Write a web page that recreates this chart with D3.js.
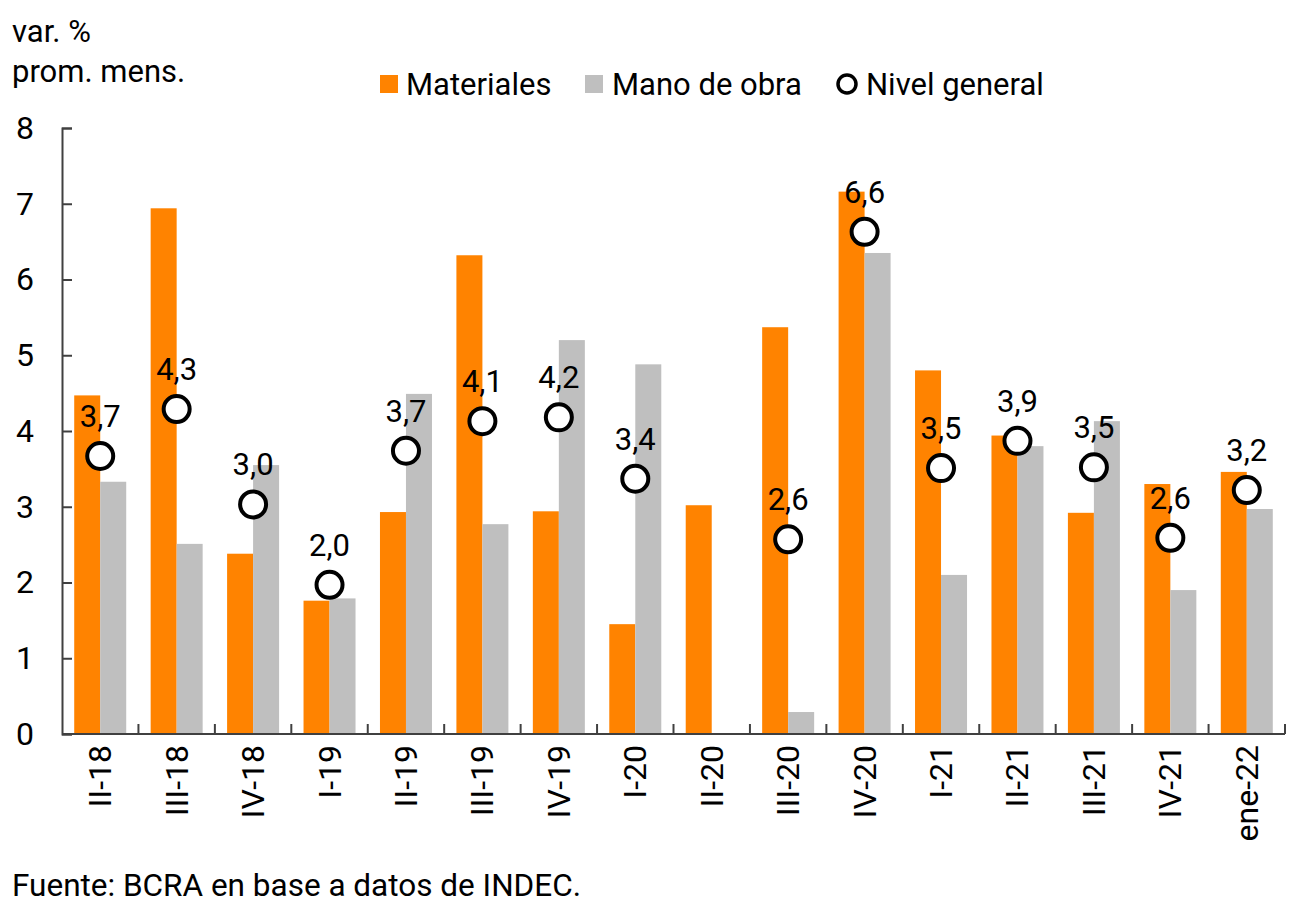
<!DOCTYPE html>
<html>
<head>
<meta charset="utf-8">
<script src="https://cdn.jsdelivr.net/npm/d3@7"></script>
<style>
  body { margin: 0; background: #fff; }
  text { font-family: Roboto, "Noto Sans", sans-serif; fill: #000; }
</style>
</head>
<body>
<div id="chart"></div>
<script>
var categories = ["II-18", "III-18", "IV-18", "I-19", "II-19", "III-19", "IV-19", "I-20",
                  "II-20", "III-20", "IV-20", "I-21", "II-21", "III-21", "IV-21", "ene-22"];
var materiales = [4.47, 6.94, 2.38, 1.76, 2.93, 6.32, 2.94, 1.45, 3.02, 5.37, 7.16, 4.80, 3.94, 2.92, 3.30, 3.46];
var manoDeObra = [3.33, 2.51, 3.55, 1.79, 4.49, 2.77, 5.20, 4.88, null, 0.29, 6.35, 2.10, 3.80, 4.13, 1.90, 2.97];
var nivelGeneral = [3.67, 4.29, 3.03, 1.97, 3.74, 4.13, 4.18, 3.37, null, 2.57, 6.63, 3.51, 3.87, 3.52, 2.59, 3.22];
var yTicks = [0, 1, 2, 3, 4, 5, 6, 7, 8];
var seriesNames = ["Materiales", "Mano de obra", "Nivel general"];

var width = 1300, height = 919;
var plotLeft = 62, plotRight = 1285, plotTop = 128, plotBottom = 734;
var orange = "#ff8300", gray = "#bfbfbf", axisColor = "#404040";

var svg = d3.select("#chart").append("svg")
  .attr("width", width)
  .attr("height", height);

var x0 = d3.scaleBand().domain(categories).range([plotLeft, plotRight]).padding(0);
var x1 = d3.scaleBand().domain(["m", "mo"]).range([0, x0.bandwidth()]).paddingInner(0).paddingOuter(0.47);
var y = d3.scaleLinear().domain([0, 8]).range([plotBottom, plotTop]);

var fmt = function (v) { return d3.format(".1f")(v).replace(".", ","); };

var rows = categories.map(function (c, i) {
  return { cat: c, m: materiales[i], mo: manoDeObra[i], n: nivelGeneral[i] };
});

// bars
svg.append("g").selectAll("rect")
  .data(rows).enter().append("rect")
  .attr("x", function (d) { return x0(d.cat) + x1("m"); })
  .attr("y", function (d) { return y(d.m); })
  .attr("width", x1.bandwidth())
  .attr("height", function (d) { return y(0) - y(d.m); })
  .attr("fill", orange);

svg.append("g").selectAll("rect")
  .data(rows.filter(function (d) { return d.mo != null; })).enter().append("rect")
  .attr("x", function (d) { return x0(d.cat) + x1("mo"); })
  .attr("y", function (d) { return y(d.mo); })
  .attr("width", x1.bandwidth())
  .attr("height", function (d) { return y(0) - y(d.mo); })
  .attr("fill", gray);

// axes
var yAxis = d3.axisLeft(y).tickValues(yTicks).tickSize(-10).tickPadding(28).tickFormat(d3.format("d"));
var gy = svg.append("g").attr("transform", "translate(" + plotLeft + ",0)").call(yAxis);
gy.select(".domain").attr("stroke", axisColor).attr("stroke-width", 2);
gy.selectAll(".tick line").attr("stroke", axisColor).attr("stroke-width", 2);
gy.selectAll(".tick text").attr("font-size", 32).attr("font-family", "Roboto").attr("fill", "#000");

var gx = svg.append("g").attr("transform", "translate(0," + plotBottom + ")");
gx.append("line").attr("x1", plotLeft).attr("x2", plotRight).attr("y1", 0).attr("y2", 0)
  .attr("stroke", axisColor).attr("stroke-width", 2);
var seps = categories.slice(1).map(function (c) { return x0(c); }).concat([plotRight]);
gx.selectAll(".sep").data(seps).enter().append("line")
  .attr("x1", function (d) { return d; })
  .attr("x2", function (d) { return d; })
  .attr("y1", 0).attr("y2", -10)
  .attr("stroke", axisColor).attr("stroke-width", 2);
gx.selectAll(".lbl").data(categories).enter().append("text")
  .attr("transform", function (d) { return "translate(" + (x0(d) + x0.bandwidth() / 2 + 11) + ",11) rotate(-90)"; })
  .attr("text-anchor", "end")
  .attr("font-size", 32)
  .text(function (d) { return d; });

// nivel general points
var pts = rows.filter(function (d) { return d.n != null; });
svg.append("g").selectAll("circle")
  .data(pts).enter().append("circle")
  .attr("cx", function (d) { return x0(d.cat) + x0.bandwidth() / 2; })
  .attr("cy", function (d) { return y(d.n); })
  .attr("r", 13)
  .attr("fill", "#fff")
  .attr("stroke", "#000")
  .attr("stroke-width", 4);
svg.append("g").selectAll("text")
  .data(pts).enter().append("text")
  .attr("x", function (d) { return x0(d.cat) + x0.bandwidth() / 2; })
  .attr("y", function (d) { return y(d.n) - 29; })
  .attr("text-anchor", "middle")
  .attr("font-size", 31)
  .text(function (d) { return fmt(d.n); });

// y title
svg.append("text").attr("x", 12).attr("y", 42).attr("font-size", 31).text("var. %");
svg.append("text").attr("x", 12).attr("y", 82).attr("font-size", 31).text("prom. mens.");

// legend
var lg = svg.append("g").attr("transform", "translate(0,84)");
lg.append("rect").attr("x", 380).attr("y", -9).attr("width", 18).attr("height", 18).attr("fill", orange);
lg.append("text").attr("x", 406).attr("y", 11).attr("font-size", 31).text(seriesNames[0]);
lg.append("rect").attr("x", 585).attr("y", -9).attr("width", 18).attr("height", 18).attr("fill", gray);
lg.append("text").attr("x", 612).attr("y", 11).attr("font-size", 31).text(seriesNames[1]);
lg.append("circle").attr("cx", 847).attr("cy", 0).attr("r", 9).attr("fill", "#fff").attr("stroke", "#000").attr("stroke-width", 3.5);
lg.append("text").attr("x", 866).attr("y", 11).attr("font-size", 31).text(seriesNames[2]);

// source
svg.append("text").attr("x", 12).attr("y", 896).attr("font-size", 31.5).text("Fuente: BCRA en base a datos de INDEC.");
</script>
</body>
</html>
